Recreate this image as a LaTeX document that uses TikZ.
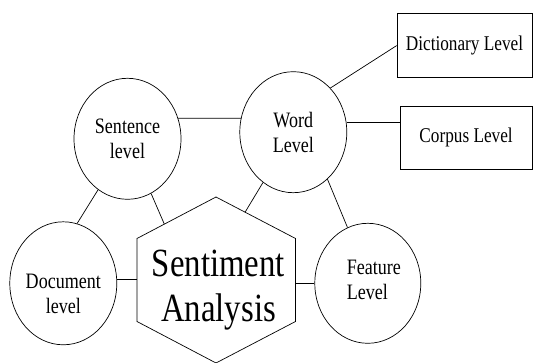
\documentclass[tikz,border=0pt]{standalone}
\usepackage{fontspec}
\setmainfont{Liberation Serif}[FakeStretch=0.82]
\usetikzlibrary{shapes.geometric,calc}

\begin{document}
\begin{tikzpicture}[x=1pt,y=1pt,line width=0.7pt,
    lvl/.style={ellipse, draw, inner sep=0pt, align=center,
        minimum width=107pt, minimum height=121pt,
        font=\fontsize{22}{25}\selectfont},
    lvltext/.style={inner sep=0pt, font=\fontsize{22}{25}\selectfont},
    lvlbox/.style={rectangle, draw, inner sep=0pt,
        minimum width=134pt, minimum height=63pt,
        font=\fontsize{21}{24}\selectfont}]
    \useasboundingbox (0,0) rectangle (534,363);
    % levels round the hexagon
    \node[lvl] (sent) at (127.5,224.2) {Sentence\\level};
    \node[lvl] (word) at (293.3,230.8) {Word\\Level};
    \node[lvl,minimum height=123pt] (doc) at (63.3,79.7) {};
    \node[lvltext,align=center] (doct) at (63.3,68.7) {Document\\level};
    \node[lvl,minimum width=106pt,minimum height=120pt] (feat) at (367.8,79.7) {};
    \node[lvltext,align=left] (featt) at (373.9,82.8) {Feature\\Level};
    % word level approaches
    \node[lvlbox,minimum width=135pt,minimum height=64pt] (dict) at (464.5,317.4) {Dictionary Level};
    \node[lvlbox,minimum width=132pt] (corp) at (466.1,225.2) {Corpus Level};
    % the hexagon
    \coordinate (hxt) at (216,166);
    \coordinate (hxur) at (295.5,124.5);
    \coordinate (hxlr) at (295.5,41.5);
    \coordinate (hxb) at (216,0);
    \coordinate (hxll) at (137,41.5);
    \coordinate (hxul) at (137,124.5);
    \coordinate (hxs) at ($(hxt)!0.654!(hxul)$);
    \coordinate (hxw) at ($(hxt)!0.366!(hxur)$);
    \draw (hxt) -- (hxur) -- (hxlr) -- (hxb) -- (hxll) -- (hxul) -- cycle;
    \node[inner sep=0pt,align=center,font=\fontsize{40}{45}\selectfont] (sa) at (218.5,73) {Sentiment\\Analysis};
    % links
    \draw (sent.22) -- (word.165);
    \draw (sent.240) -- (doc.77);
    \draw (sent) -- (hxs);
    \draw (word) -- (hxw);
    \draw (word.-54) -- (feat.110);
    \draw (word.50) -- (dict.west);
    \draw (word.10) -- (word.10 -| corp.west);
    \draw (doc.4) -- (doc.4 -| hxul);
    \draw (feat.west -| hxur) -- (feat.west);
\end{tikzpicture}
\end{document}
